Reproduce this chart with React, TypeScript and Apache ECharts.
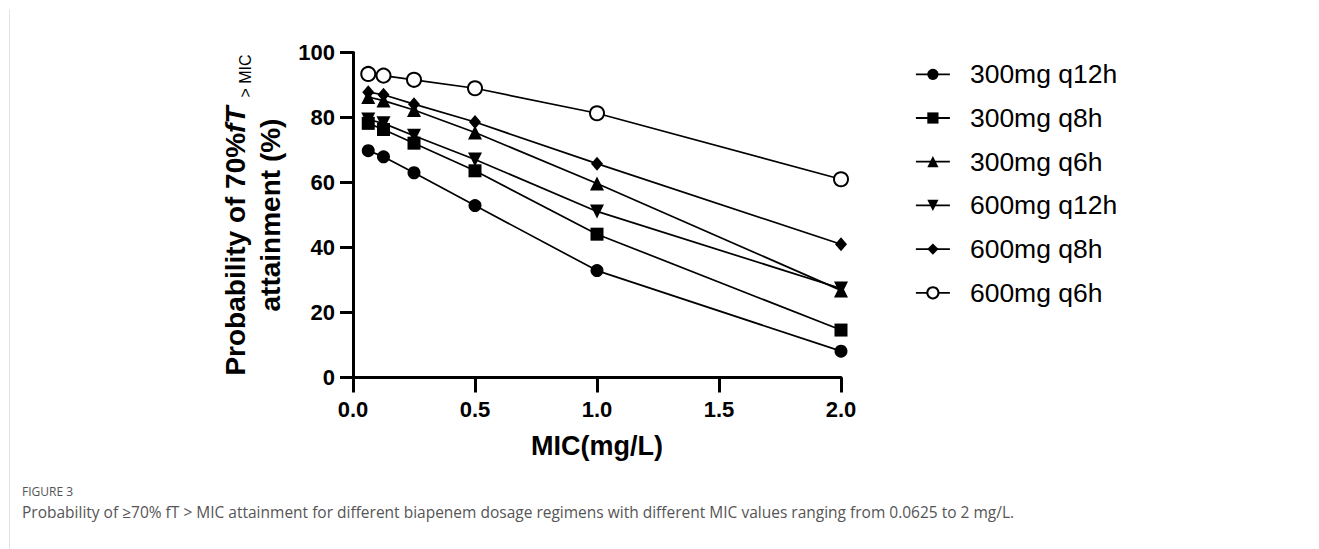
import React, { useEffect, useRef } from "react";
import * as echarts from "echarts";

const micValues = [0.0625, 0.125, 0.25, 0.5, 1, 2];
const seriesNames = ["300mg q12h", "300mg q8h", "300mg q6h", "600mg q12h", "600mg q8h", "600mg q6h"];
const s300q12 = [69.8, 67.9, 63.0, 52.9, 32.9, 8.1];
const s300q8 = [78.2, 76.3, 72.1, 63.6, 44.1, 14.6];
const s300q6 = [86.3, 85.2, 82.3, 75.4, 59.7, 26.8];
const s600q12 = [79.4, 78.2, 74.4, 67.1, 51.1, 27.4];
const s600q8 = [87.8, 87.0, 84.1, 78.6, 65.8, 41.0];
const s600q6 = [93.4, 92.9, 91.6, 89.0, 81.3, 61.0];
const xTicks = [0, 0.5, 1, 1.5, 2];
const yTicks = [0, 20, 40, 60, 80, 100];

const seriesValues = [s300q12, s300q8, s300q6, s600q12, s600q8, s600q6];
const symbols = ["circle", "rect", "triangle", "triangle", "diamond", "emptyCircle"];
const rotations = [0, 0, 0, 180, 0, 0];
const sizes: any[] = [13, 13, 14, 14, [12, 14], 14];

const FONT = "'Liberation Sans', Arial, Helvetica, sans-serif";

export default function App() {
  const ref = useRef<HTMLDivElement>(null);
  useEffect(() => {
    if (!ref.current) return;
    const chart = echarts.init(ref.current, null, { renderer: "svg" });
    const series = seriesNames.map((name, i) => ({
      name,
      type: "line",
      data: micValues.map((m, j) => [m, seriesValues[i][j]]),
      symbol: symbols[i],
      symbolRotate: rotations[i],
      symbolSize: sizes[i],
      showAllSymbol: true,
      lineStyle: { color: "#000", width: 1.7 },
      itemStyle: { color: "#000", borderColor: "#000", borderWidth: i === 5 ? 2.5 : 0 },
      emphasis: { disabled: true },
      z: 2 + i,
    }));
    chart.setOption({
      animation: false,
      backgroundColor: "#fff",
      grid: { left: 353, top: 52.5, width: 488, height: 325, containLabel: false },
      legend: {
        orient: "vertical",
        left: 915,
        top: 59.3,
        padding: 0,
        itemWidth: 34,
        itemHeight: 14,
        itemGap: 13.7,
        data: seriesNames,
        selectedMode: false,
        textStyle: { fontFamily: FONT, fontSize: 26.5, color: "#000", lineHeight: 30, padding: [0, 0, 0, 15] },
        lineStyle: { width: 1.8 },
      },
      xAxis: {
        type: "value",
        min: xTicks[0],
        max: xTicks[xTicks.length - 1],
        interval: 0.5,
        name: "MIC(mg/L)",
        nameLocation: "middle",
        nameGap: 55,
        nameTextStyle: { fontFamily: FONT, fontWeight: "bold", fontSize: 27, color: "#000" },
        axisLine: { lineStyle: { color: "#000", width: 3 } },
        axisTick: { length: 15, lineStyle: { color: "#000", width: 3 } },
        axisLabel: {
          margin: 21,
          fontFamily: FONT,
          fontWeight: "bold",
          fontSize: 22,
          color: "#000",
          formatter: (v: number) => v.toFixed(1),
        },
        splitLine: { show: false },
      },
      yAxis: {
        type: "value",
        min: yTicks[0],
        max: yTicks[yTicks.length - 1],
        interval: 20,
        name: "{a|Probability of 70%}{b|fT}{c|  > MIC}\n{a|attainment (%)}",
        nameLocation: "middle",
        nameRotate: 90,
        nameGap: 65,
        nameTextStyle: {
          fontFamily: FONT,
          fontWeight: "bold",
          fontSize: 28,
          color: "#000",
          lineHeight: 35,
          rich: {
            a: { fontFamily: FONT, fontWeight: "bold", fontSize: 28, lineHeight: 35, color: "#000" },
            b: { fontFamily: FONT, fontWeight: "bold", fontStyle: "italic", fontSize: 28, lineHeight: 35, color: "#000" },
            c: { fontFamily: FONT, fontWeight: "normal", fontSize: 16, lineHeight: 18, verticalAlign: "bottom", color: "#000" },
          },
        },
        axisLine: { show: true, lineStyle: { color: "#000", width: 3 } },
        axisTick: { show: true, length: 13, lineStyle: { color: "#000", width: 3 } },
        axisLabel: { margin: 18, fontFamily: FONT, fontWeight: "bold", fontSize: 22, color: "#000" },
        splitLine: { show: false },
      },
      graphic: [
        {
          type: "line",
          silent: true,
          shape: { x1: 9.5, y1: 9.5, x2: 9.5, y2: 549 },
          style: { stroke: "#e3e3e3", lineWidth: 1 },
        },
        {
          type: "text",
          left: 22,
          top: 485,
          style: { text: "FIGURE 3", fontFamily: "'Open Sans', sans-serif", fontSize: 12, fill: "#555" },
        },
        {
          type: "text",
          left: 22,
          top: 504,
          style: {
            text: "Probability of \u226570% fT > MIC attainment for different biapenem dosage regimens with different MIC values ranging from 0.0625 to 2 mg/L.",
            fontFamily: "'Open Sans', sans-serif",
            fontSize: 15.5,
            fill: "#555",
          },
        },
      ],
      series,
    });
    return () => chart.dispose();
  }, []);
  return <div ref={ref} style={{ position: "absolute", left: 0, top: 0, width: 1319, height: 549 }} />;
}
